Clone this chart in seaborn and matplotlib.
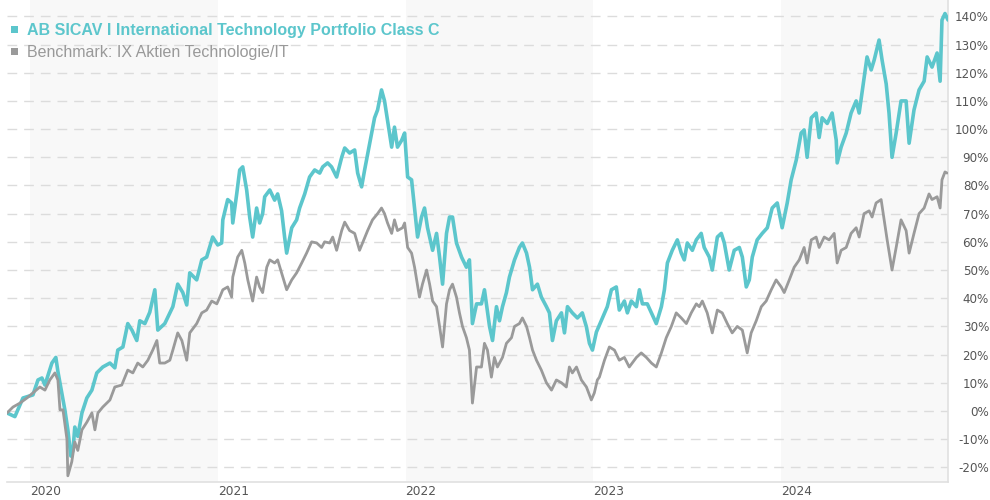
import matplotlib
matplotlib.use("Agg")
import matplotlib.pyplot as plt
from matplotlib.patches import Rectangle
import seaborn as sns
import pandas as pd

# ---- data (time in decimal years, performance in %) ----
fund_name = "AB SICAV I International Technology Portfolio Class C"
bench_name = "Benchmark: IX Aktien Technologie/IT"

fund_t = [2019.878, 2019.920, 2019.963, 2020.016, 2020.043, 2020.064, 2020.080, 2020.117, 2020.138, 2020.149,
          2020.170, 2020.186, 2020.202, 2020.218, 2020.229, 2020.239, 2020.255, 2020.277, 2020.303, 2020.330,
          2020.356, 2020.388, 2020.426, 2020.452, 2020.468, 2020.495, 2020.521, 2020.543, 2020.569, 2020.585,
          2020.612, 2020.638, 2020.665, 2020.681, 2020.718, 2020.761, 2020.787, 2020.814, 2020.835, 2020.851,
          2020.888, 2020.915, 2020.941, 2020.973, 2021.000, 2021.021, 2021.027, 2021.053, 2021.074, 2021.080,
          2021.101, 2021.117, 2021.133, 2021.154, 2021.170, 2021.186, 2021.207, 2021.223, 2021.239, 2021.250,
          2021.277, 2021.303, 2021.319, 2021.340, 2021.356, 2021.367, 2021.394, 2021.420, 2021.436, 2021.463,
          2021.489, 2021.516, 2021.543, 2021.559, 2021.585, 2021.606, 2021.633, 2021.660, 2021.676, 2021.702,
          2021.729, 2021.745, 2021.766, 2021.782, 2021.809, 2021.835, 2021.851, 2021.872, 2021.888, 2021.904,
          2021.926, 2021.941, 2021.957, 2021.979, 2021.995, 2022.011, 2022.032, 2022.048, 2022.064, 2022.085,
          2022.101, 2022.117, 2022.144, 2022.165, 2022.181, 2022.197, 2022.218, 2022.234, 2022.250, 2022.271,
          2022.298, 2022.324, 2022.340, 2022.356, 2022.378, 2022.404, 2022.420, 2022.447, 2022.463, 2022.484,
          2022.500, 2022.516, 2022.537, 2022.553, 2022.580, 2022.606, 2022.622, 2022.644, 2022.660, 2022.676,
          2022.702, 2022.723, 2022.750, 2022.766, 2022.782, 2022.803, 2022.830, 2022.846, 2022.862, 2022.888,
          2022.915, 2022.941, 2022.963, 2022.979, 2022.995, 2023.016, 2023.048, 2023.074, 2023.096, 2023.122,
          2023.138, 2023.165, 2023.181, 2023.202, 2023.229, 2023.245, 2023.261, 2023.287, 2023.309, 2023.335,
          2023.362, 2023.378, 2023.394, 2023.420, 2023.447, 2023.468, 2023.484, 2023.500, 2023.527, 2023.548,
          2023.574, 2023.590, 2023.617, 2023.633, 2023.660, 2023.681, 2023.697, 2023.723, 2023.750, 2023.777,
          2023.793, 2023.814, 2023.830, 2023.846, 2023.872, 2023.899, 2023.926, 2023.952, 2023.979, 2024.005,
          2024.032, 2024.053, 2024.080, 2024.106, 2024.122, 2024.138, 2024.160, 2024.186, 2024.202, 2024.218,
          2024.245, 2024.271, 2024.293, 2024.298, 2024.319, 2024.346, 2024.372, 2024.399, 2024.415, 2024.441,
          2024.457, 2024.479, 2024.495, 2024.521, 2024.537, 2024.559, 2024.574, 2024.590, 2024.612, 2024.638,
          2024.665, 2024.681, 2024.707, 2024.734, 2024.761, 2024.777, 2024.803, 2024.830, 2024.846, 2024.856,
          2024.872, 2024.888]
fund_v = [-0.7, -2.0, 4.6, 5.7, 11.0, 11.7, 9.2, 17.0, 19.0, 14.0,
          6.4, 0.4, -6.7, -16.0, -14.0, -5.7, -9.0, -0.7, 4.6, 7.4,
          13.5, 15.6, 17.0, 15.3, 21.6, 22.7, 31.0, 28.7, 25.0, 32.0,
          31.0, 35.0, 43.0, 28.7, 31.0, 37.0, 45.0, 42.0, 37.6, 49.0,
          46.5, 53.6, 54.6, 61.7, 58.9, 59.6, 67.8, 75.0, 73.8, 66.7,
          77.0, 85.5, 86.6, 78.4, 68.8, 61.7, 72.0, 66.7, 70.0, 76.0,
          78.4, 74.8, 77.0, 71.0, 61.7, 56.0, 65.0, 67.8, 72.0, 77.0,
          83.0, 85.5, 84.4, 86.6, 88.0, 86.6, 83.0, 90.0, 93.3, 91.5,
          92.6, 84.4, 79.5, 85.5, 95.0, 104.0, 106.8, 113.9, 110.0, 103.0,
          93.6, 100.7, 93.6, 96.0, 98.6, 83.0, 82.0, 72.0, 61.7, 68.8,
          72.0, 65.0, 57.0, 63.0, 54.6, 45.0, 63.0, 68.8, 68.8, 59.6,
          54.6, 51.0, 53.6, 31.0, 38.0, 38.0, 43.0, 30.0, 25.0, 37.0,
          32.0, 37.0, 42.0, 47.5, 53.6, 58.0, 59.6, 56.0, 51.0, 43.0,
          45.0, 40.4, 37.0, 34.8, 25.0, 32.0, 34.8, 27.7, 37.0, 34.8,
          33.0, 34.8, 29.8, 24.0, 21.6, 28.0, 33.0, 37.0, 43.0, 44.0,
          35.8, 39.0, 34.8, 39.0, 37.0, 43.0, 38.0, 38.0, 34.8, 31.0,
          37.0, 43.0, 52.5, 57.0, 60.7, 56.0, 53.6, 59.6, 57.0, 60.7,
          63.0, 58.0, 54.6, 50.0, 61.7, 63.0, 59.6, 50.0, 57.0, 58.0,
          54.6, 44.0, 46.5, 54.6, 60.7, 63.0, 65.0, 72.0, 73.8, 65.0,
          73.8, 82.0, 89.0, 98.6, 99.7, 90.0, 104.0, 105.7, 97.0, 104.0,
          102.0, 105.7, 96.0, 88.0, 93.6, 98.6, 105.7, 110.0, 105.7, 118.0,
          125.6, 121.0, 124.5, 131.6, 124.5, 116.0, 105.7, 90.0, 98.6, 110.0,
          110.0, 95.0, 106.8, 113.9, 117.0, 125.6, 122.0, 127.0, 117.0, 138.7,
          141.0, 138.7]

bench_t = [2019.878, 2019.910, 2019.947, 2019.984, 2020.016, 2020.053, 2020.080, 2020.106, 2020.133, 2020.149,
           2020.160, 2020.176, 2020.197, 2020.202, 2020.223, 2020.239, 2020.255, 2020.277, 2020.303, 2020.330,
           2020.346, 2020.362, 2020.388, 2020.426, 2020.452, 2020.489, 2020.521, 2020.548, 2020.574, 2020.601,
           2020.628, 2020.654, 2020.676, 2020.691, 2020.718, 2020.745, 2020.761, 2020.787, 2020.809, 2020.835,
           2020.851, 2020.888, 2020.915, 2020.941, 2020.968, 2020.995, 2021.011, 2021.027, 2021.053, 2021.074,
           2021.080, 2021.106, 2021.128, 2021.144, 2021.160, 2021.186, 2021.207, 2021.223, 2021.239, 2021.261,
           2021.277, 2021.303, 2021.319, 2021.340, 2021.367, 2021.394, 2021.420, 2021.447, 2021.473, 2021.500,
           2021.527, 2021.553, 2021.569, 2021.596, 2021.612, 2021.633, 2021.660, 2021.676, 2021.702, 2021.729,
           2021.755, 2021.771, 2021.798, 2021.824, 2021.851, 2021.872, 2021.888, 2021.904, 2021.926, 2021.941,
           2021.957, 2021.984, 2021.995, 2022.011, 2022.032, 2022.048, 2022.074, 2022.090, 2022.112, 2022.128,
           2022.144, 2022.165, 2022.181, 2022.197, 2022.218, 2022.234, 2022.250, 2022.271, 2022.287, 2022.303,
           2022.324, 2022.340, 2022.356, 2022.378, 2022.404, 2022.420, 2022.436, 2022.457, 2022.473, 2022.489,
           2022.516, 2022.537, 2022.564, 2022.580, 2022.606, 2022.622, 2022.644, 2022.660, 2022.676, 2022.697,
           2022.723, 2022.750, 2022.777, 2022.803, 2022.830, 2022.856, 2022.872, 2022.888, 2022.910, 2022.936,
           2022.963, 2022.989, 2023.005, 2023.021, 2023.032, 2023.059, 2023.085, 2023.112, 2023.138, 2023.165,
           2023.191, 2023.229, 2023.255, 2023.282, 2023.309, 2023.335, 2023.362, 2023.388, 2023.415, 2023.441,
           2023.468, 2023.495, 2023.521, 2023.548, 2023.564, 2023.580, 2023.606, 2023.633, 2023.660, 2023.686,
           2023.713, 2023.739, 2023.766, 2023.793, 2023.819, 2023.840, 2023.867, 2023.894, 2023.920, 2023.947,
           2023.973, 2024.000, 2024.016, 2024.043, 2024.069, 2024.096, 2024.122, 2024.138, 2024.160, 2024.186,
           2024.202, 2024.229, 2024.255, 2024.282, 2024.298, 2024.319, 2024.346, 2024.372, 2024.399, 2024.415,
           2024.441, 2024.468, 2024.484, 2024.505, 2024.532, 2024.548, 2024.564, 2024.590, 2024.612, 2024.638,
           2024.665, 2024.681, 2024.707, 2024.734, 2024.761, 2024.787, 2024.803, 2024.830, 2024.846, 2024.856,
           2024.872, 2024.883]
bench_v = [-0.7, 1.4, 2.8, 4.6, 6.4, 8.5, 7.4, 11.0, 13.5, 11.0,
           0.4, 0.4, -10.0, -23.0, -18.0, -11.0, -14.0, -6.7, -4.0, -0.7,
           -6.7, -0.7, 1.4, 3.9, 8.5, 9.2, 14.5, 13.5, 17.0, 15.6,
           18.0, 21.6, 25.0, 17.0, 17.0, 18.0, 21.6, 27.7, 25.0, 18.0,
           27.7, 31.0, 34.8, 35.8, 39.0, 38.0, 40.4, 43.0, 44.0, 40.4,
           47.5, 54.6, 57.0, 52.5, 46.5, 39.0, 47.5, 44.0, 42.0, 51.0,
           53.6, 52.5, 53.6, 49.0, 43.0, 46.5, 49.0, 52.5, 56.0, 60.0,
           59.6, 58.0, 60.0, 59.6, 61.7, 57.0, 64.0, 67.0, 64.0, 63.0,
           57.0, 59.6, 64.0, 67.8, 70.0, 72.0, 70.0, 66.7, 63.0, 67.8,
           64.0, 65.0, 66.7, 58.0, 56.0, 51.0, 40.4, 45.0, 50.0, 45.0,
           39.0, 37.0, 30.0, 22.7, 38.0, 43.0, 45.0, 40.4, 34.8, 30.0,
           26.0, 21.6, 2.8, 15.6, 15.6, 24.0, 21.6, 12.0, 19.0, 15.6,
           19.0, 24.0, 26.0, 30.0, 31.0, 33.0, 30.0, 26.0, 21.6, 18.0,
           14.5, 10.0, 7.4, 11.0, 10.0, 8.5, 15.6, 13.5, 15.6, 11.0,
           8.5, 3.9, 6.4, 11.0, 12.0, 18.0, 22.7, 21.6, 18.0, 19.0,
           15.6, 19.0, 20.6, 19.0, 17.0, 15.6, 20.6, 26.0, 30.0, 34.8,
           33.0, 31.0, 34.8, 38.0, 37.0, 39.0, 34.8, 27.7, 35.8, 34.8,
           31.0, 27.7, 30.0, 28.7, 20.6, 27.7, 32.0, 37.0, 39.0, 43.0,
           46.5, 44.0, 42.0, 46.5, 51.0, 53.6, 58.0, 52.5, 60.7, 61.7,
           58.0, 61.7, 60.7, 63.0, 52.5, 57.0, 58.0, 63.0, 65.0, 61.7,
           70.0, 71.0, 68.8, 73.8, 75.0, 67.8, 60.7, 50.0, 58.0, 67.8,
           64.0, 56.0, 63.0, 70.0, 72.0, 77.0, 75.0, 76.0, 72.0, 82.0,
           84.8, 84.4]

years = [2020, 2021, 2022, 2023, 2024]
shaded_years = [2020, 2022, 2024]
y_ticks = list(range(-20, 141, 10))

fund_color = "#5cc6cc"
bench_color = "#9a9a9a"

# ---- figure ----
sns.set_style("white")
plt.rcParams["font.family"] = ["DejaVu Sans"]

fig = plt.figure(figsize=(9.9, 5.0), dpi=100)
ax = fig.add_axes([7 / 990, 18 / 500, (948 - 7) / 990, 482 / 500])

x_min, x_max = fund_t[0], 2024.888
for yr in shaded_years:
    ax.axvspan(yr, min(yr + 1, x_max), color="#f8f8f8", lw=0, zorder=0)

df_f = pd.DataFrame({"t": fund_t, "v": fund_v})
df_b = pd.DataFrame({"t": bench_t, "v": bench_v})
sns.lineplot(data=df_f, x="t", y="v", ax=ax, color=fund_color, lw=2.6,
             estimator=None, sort=False, zorder=3)
sns.lineplot(data=df_b, x="t", y="v", ax=ax, color=bench_color, lw=2.0,
             estimator=None, sort=False, zorder=4)

ax.set_xlim(x_min, x_max)
ax.set_ylim(-25.2, 145.8)
ax.set_xlabel("")
ax.set_ylabel("")

ax.set_yticks(y_ticks)
ax.set_yticklabels([f"{v}%" for v in y_ticks])
ax.yaxis.tick_right()
ax.tick_params(axis="y", length=0, pad=29.5, labelsize=8.6, labelcolor="#555555")
for lbl in ax.get_yticklabels():
    lbl.set_horizontalalignment("right")

ax.set_xticks(years)
ax.set_xticklabels([str(y) for y in years])
ax.tick_params(axis="x", length=0, pad=2, labelsize=8.8, labelcolor="#555555")
for lbl in ax.get_xticklabels():
    lbl.set_horizontalalignment("left")

ax.grid(axis="y", color="#dcdcdc", lw=1.0, linestyle=(0, (7, 5)))
ax.grid(axis="x", visible=False)
ax.set_axisbelow(True)

for side in ["left", "top"]:
    ax.spines[side].set_visible(False)
for side in ["bottom", "right"]:
    ax.spines[side].set_visible(True)
    ax.spines[side].set_color("#e0e0e0")
    ax.spines[side].set_linewidth(1.2)

# legend at top-left
fig.patches.append(Rectangle((11 / 990, 1 - 33 / 500), 7 / 990, 7 / 500,
                             transform=fig.transFigure, color=fund_color, lw=0))
fig.patches.append(Rectangle((11 / 990, 1 - 55 / 500), 7 / 990, 7 / 500,
                             transform=fig.transFigure, color=bench_color, lw=0))
fig.text(27 / 990, 1 - 30 / 500, fund_name, color=fund_color, fontsize=11.5,
         fontweight="bold", family=["Liberation Sans"], va="center", ha="left")
fig.text(27 / 990, 1 - 52 / 500, bench_name, color="#999999", fontsize=11.5,
         family=["Liberation Sans"], va="center", ha="left")

fig.savefig("out.png", dpi=100)
